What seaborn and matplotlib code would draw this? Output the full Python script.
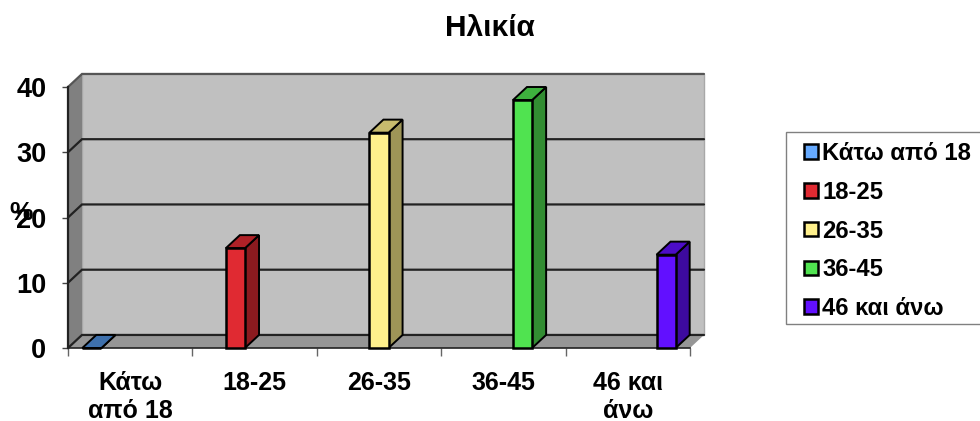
import pandas as pd
import matplotlib
matplotlib.use("Agg")
import matplotlib.pyplot as plt
from matplotlib.colors import to_rgb
from matplotlib.patches import Patch, Polygon, Rectangle
import seaborn as sns

categories = ["Κάτω\nαπό 18", "18-25", "26-35", "36-45", "46 και\nάνω"]
legend_labels = ["Κάτω από 18", "18-25", "26-35", "36-45", "46 και άνω"]
values = [0, 15.3, 33, 38, 14.3]
colors = ["#4F8FDC", "#E02A32", "#FFF08C", "#50E350", "#6210FF"]
legend_colors = ["#66AAFF", "#E02A32", "#FFF08C", "#50E350", "#6210FF"]
y_ticks = [0, 10, 20, 30, 40]

# depth of the fake 3D box, in data units
DX = 0.1125
DY = 2.0


def shade(color, factor):
    return tuple(c * factor for c in to_rgb(color))


def poly(ax, pts, face, z, edge="none", lw=0.0):
    ax.add_patch(Polygon(pts, closed=True, facecolor=face, edgecolor=edge,
                         linewidth=lw, zorder=z, clip_on=False))


def main():
    sns.set_style("white")
    plt.rcParams["font.family"] = ["Liberation Sans", "DejaVu Sans"]
    plt.rcParams["font.weight"] = "bold"
    plt.rcParams["text.color"] = "black"
    plt.rcParams["xtick.labelcolor"] = "black"
    plt.rcParams["ytick.labelcolor"] = "black"

    df = pd.DataFrame({"cat": categories, "value": values})

    fig = plt.figure(figsize=(9.8, 4.21), dpi=100)
    ax = fig.add_axes([68 / 980, (421 - 348) / 421, 622 / 980, 261 / 421])
    ax.patch.set_visible(False)

    sns.barplot(data=df, x="cat", y="value", hue="cat", order=categories, hue_order=categories,
                palette=colors, dodge=True, width=0.77, gap=0, saturation=1, legend=False,
                edgecolor="black", linewidth=1.8, ax=ax, zorder=5)
    bars = list(ax.patches)
    x0, x1 = -0.5, 4.5
    y0, y1 = 0, 40
    ax.set_xlim(x0, x1)
    ax.set_ylim(y0, y1)

    # walls and floor
    poly(ax, [(x0 + DX, y0 + DY), (x1 + DX, y0 + DY), (x1 + DX, y1 + DY), (x0 + DX, y1 + DY)],
         "#C0C0C0", 1, "#A8A8A8", 1.0)
    poly(ax, [(x0, y0), (x0 + DX, y0 + DY), (x0 + DX, y1 + DY), (x0, y1)], "#808080", 1.2)
    poly(ax, [(x0, y0), (x1, y0), (x1 + DX, y0 + DY), (x0 + DX, y0 + DY)], "#969696", 1.2)

    # gridlines run along the side wall and the back wall
    for v in y_ticks:
        edge = "#222222" if v < y1 else "#555555"
        ax.plot([x0, x0 + DX, x1 + DX], [v, v + DY, v + DY], color=edge, lw=1.6,
                zorder=1.5, clip_on=False, solid_joinstyle="miter")

    # 3D sides of the bars, taken from the bars themselves
    for bar, color in zip(bars, colors):
        bx0 = bar.get_x()
        bx1 = bx0 + bar.get_width()
        top = bar.get_height()
        poly(ax, [(bx1, 0), (bx1 + DX, DY), (bx1 + DX, top + DY), (bx1, top)],
             shade(color, 0.62), 4, "black", 1.4)
        poly(ax, [(bx0, top), (bx1, top), (bx1 + DX, top + DY), (bx0 + DX, top + DY)],
             shade(color, 0.78), 4, "black", 1.4)
        bar.set_clip_on(False)

    sns.despine(ax=ax, top=True, right=True)
    ax.spines["left"].set_linewidth(1.6)
    ax.spines["left"].set_color("#222222")
    ax.spines["left"].set_zorder(3)
    ax.spines["bottom"].set_linewidth(1.2)
    ax.spines["bottom"].set_color("#222222")
    ax.spines["bottom"].set_zorder(3)

    ax.set_yticks(y_ticks)
    ax.set_yticklabels([str(v) for v in y_ticks])
    ax.tick_params(axis="y", which="major", left=True, length=4.5, width=1.0, color="#444444",
                   labelsize=19.5, pad=11)
    ax.set_xticks(range(len(categories)))
    ax.set_xticklabels(categories, linespacing=1.22)
    ax.set_xticks([i - 0.5 for i in range(len(categories) + 1)], minor=True)
    ax.tick_params(axis="x", which="major", bottom=False, labelsize=18, pad=13)
    ax.tick_params(axis="x", which="minor", bottom=True, length=6, width=1.0, color="#666666")
    for lab in ax.get_xticklabels() + ax.get_yticklabels():
        lab.set_fontweight("bold")
    ax.set_xlabel("")
    ax.set_ylabel("")

    fig.text(21 / 980, 1 - 213 / 421, "%", fontsize=19, fontweight="bold", ha="center", va="center")
    fig.text(490 / 980, 1 - 28 / 421, "Ηλικία", fontsize=21.5, fontweight="bold", ha="center", va="center")

    # legend box runs off the right edge of the picture
    fig.add_artist(Rectangle((786 / 980, 1 - 324 / 421), 210 / 980, 192 / 421,
                             transform=fig.transFigure, facecolor="white",
                             edgecolor="#808080", linewidth=1.0))
    handles = [Patch(facecolor=c, edgecolor="black", linewidth=1.8) for c in legend_colors]
    fig.legend(handles, legend_labels, loc="upper left",
               bbox_to_anchor=(804 / 980, 1 - 142 / 421), borderaxespad=0, borderpad=0,
               prop={"size": 17.2, "weight": "bold"},
               handlelength=0.6, handleheight=0.55, handletextpad=0.17,
               labelspacing=0.66, frameon=False)

    plt.savefig("out.png", dpi=100)
    plt.close()


if __name__ == "__main__":
    main()
